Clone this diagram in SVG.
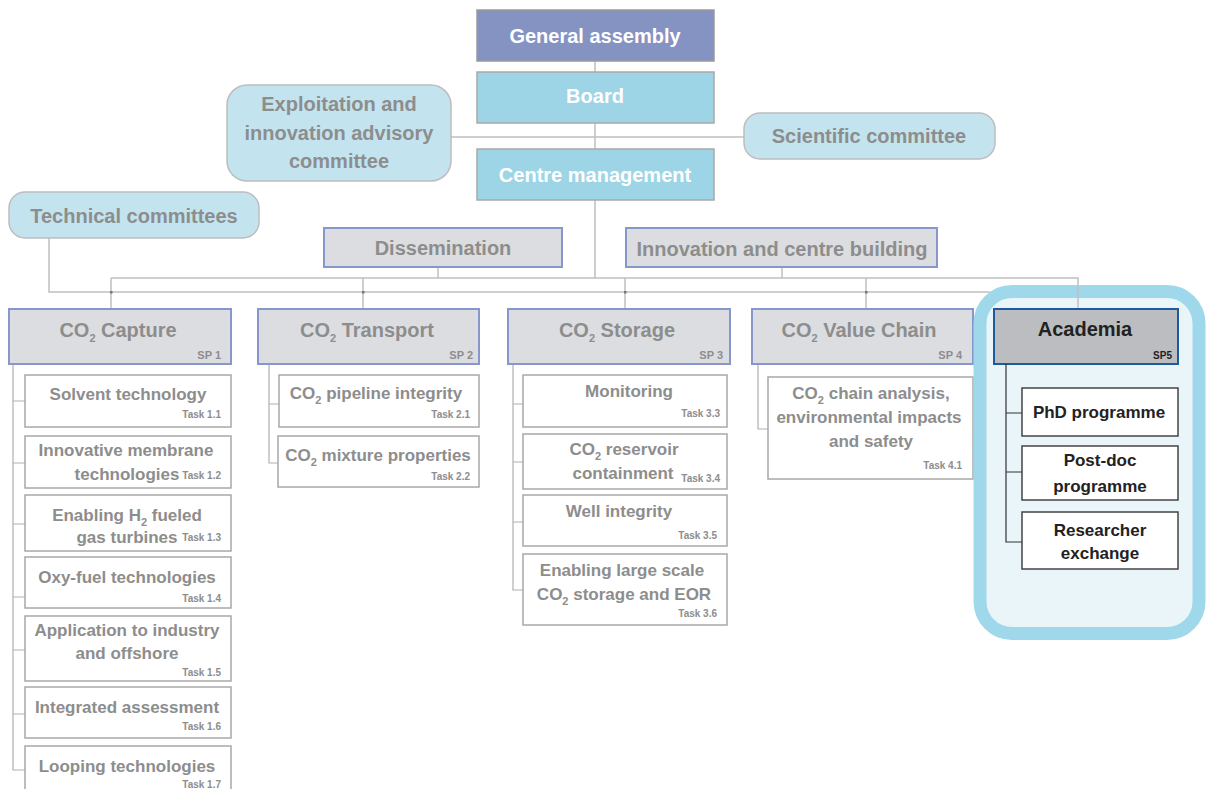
<svg xmlns="http://www.w3.org/2000/svg" width="1206" height="789" viewBox="0 0 1206 789">
<style>
text{font-family:"Liberation Sans",Arial,sans-serif;font-weight:bold}
.t{fill:#8d8d8d;font-size:20px;text-anchor:middle}
.w{fill:#ffffff;font-size:20px;text-anchor:middle}
.k{fill:#222222;font-size:17px;text-anchor:middle}
.kb{fill:#222222;font-size:20px;text-anchor:middle}
.tt{fill:#8d8d8d;font-size:17px;text-anchor:middle}
.lab{fill:#8d8d8d;font-size:10px;text-anchor:end}
.spl{fill:#8d8d8d;font-size:11px;text-anchor:end}
.labk{fill:#222222;font-size:10px;text-anchor:end}
.sub{font-size:11px}
.com{fill:#c3e4ef;stroke:#bdbdbd;stroke-width:1.5}
.mgmt{fill:#9dd5e6;stroke:#a9a9a9;stroke-width:1.5}
.sp{fill:#dcdde0;stroke:#8796cb;stroke-width:2}
.task{fill:#ffffff;stroke:#a8a8a8;stroke-width:1.5}
.ktask{fill:#ffffff;stroke:#444444;stroke-width:1.5}
.ln{fill:none;stroke:#c0c0c0;stroke-width:1.5}
.tl{fill:none;stroke:#b0b0b0;stroke-width:1.2}
.kl{fill:none;stroke:#333333;stroke-width:1.2}
</style>
<rect width="1206" height="789" fill="#ffffff"/>

<g id="connectors">
<path class="ln" d="M595 61V72M595 123V149M451 137H744M595 200V278M438 267V278M782 267V278M111 278H1078V309M111 278V309M363 278V309M625 278V309M866 278V309M49 238V292H990"/>
<g fill="#777">
<rect x="110" y="291" width="2.5" height="2.5"/>
<rect x="362" y="291" width="2.5" height="2.5"/>
<rect x="624" y="291" width="2.5" height="2.5"/>
<rect x="865" y="291" width="2.5" height="2.5"/>
</g>
<path class="tl" d="M13 364V770H25M13 401H25M13 463H25M13 524H25M13 597H25M13 650H25M13 714H25"/>
<path class="tl" d="M269 364V463H278M269 404H279"/>
<path class="tl" d="M513 364V590H523M513 404H523M513 462H523M513 522H523"/>
<path class="tl" d="M758 364V429H768"/>
</g>

<g id="general-assembly">
<rect x="477" y="10" width="237" height="51" fill="#8593c3" stroke="#9a9a9a" stroke-width="1.5"/>
<text class="w" x="595" y="43">General assembly</text>
</g>
<g id="board">
<rect class="mgmt" x="477" y="72" width="237" height="51"/>
<text class="w" x="595" y="103">Board</text>
</g>
<g id="centre-management">
<rect class="mgmt" x="477" y="149" width="237" height="51"/>
<text class="w" x="595" y="182">Centre management</text>
</g>
<g id="exploitation">
<rect class="com" x="227" y="85" width="224" height="96" rx="20"/>
<text class="t" x="339" y="111">Exploitation and</text>
<text class="t" x="339" y="140">innovation advisory</text>
<text class="t" x="339" y="168">committee</text>
</g>
<g id="scientific-committee">
<rect class="com" x="744" y="113" width="251" height="46" rx="16"/>
<text class="t" x="869" y="143">Scientific committee</text>
</g>
<g id="technical-committees">
<rect class="com" x="9" y="192" width="250" height="46" rx="16"/>
<text class="t" x="134" y="223">Technical committees</text>
</g>
<g id="dissemination">
<rect class="sp" x="324" y="228" width="238" height="39"/>
<text class="t" x="443" y="255">Dissemination</text>
</g>
<g id="innovation">
<rect class="sp" x="626" y="228" width="311" height="39"/>
<text class="t" x="782" y="256">Innovation and centre building</text>
</g>

<g id="sp1">
<rect class="sp" x="9" y="309" width="222" height="55"/>
<text class="t" x="118" y="337">CO<tspan class="sub" dy="5">2</tspan><tspan dy="-5"> Capture</tspan></text>
<text class="spl" x="221" y="359">SP 1</text>
</g>
<g id="task11"><rect class="task" x="25" y="375" width="206" height="52"/><text class="tt" x="128" y="400">Solvent technology</text><text class="lab" x="221" y="418">Task 1.1</text></g>
<g id="task12"><rect class="task" x="25" y="436" width="206" height="52"/><text class="tt" x="126" y="456">Innovative membrane</text><text class="tt" x="127" y="480">technologies</text><text class="lab" x="221" y="479">Task 1.2</text></g>
<g id="task13"><rect class="task" x="25" y="495" width="206" height="56"/><text class="tt" x="127" y="521">Enabling H<tspan class="sub" dy="5">2</tspan><tspan dy="-5"> fueled</tspan></text><text class="tt" x="127" y="543">gas turbines</text><text class="lab" x="221" y="541">Task 1.3</text></g>
<g id="task14"><rect class="task" x="25" y="557" width="206" height="51"/><text class="tt" x="127" y="583">Oxy-fuel technologies</text><text class="lab" x="221" y="602">Task 1.4</text></g>
<g id="task15"><rect class="task" x="25" y="616" width="206" height="65"/><text class="tt" x="127" y="636">Application to industry</text><text class="tt" x="127" y="659">and offshore</text><text class="lab" x="221" y="676">Task 1.5</text></g>
<g id="task16"><rect class="task" x="25" y="687" width="206" height="51"/><text class="tt" x="127" y="713">Integrated assessment</text><text class="lab" x="221" y="730">Task 1.6</text></g>
<g id="task17"><rect class="task" x="25" y="746" width="206" height="60"/><text class="tt" x="127" y="772">Looping technologies</text><text class="lab" x="221" y="788">Task 1.7</text></g>

<g id="sp2">
<rect class="sp" x="258" y="309" width="221" height="55"/>
<text class="t" x="367" y="337">CO<tspan class="sub" dy="5">2</tspan><tspan dy="-5"> Transport</tspan></text>
<text class="spl" x="473" y="359">SP 2</text>
</g>
<g id="task21"><rect class="task" x="279" y="375" width="200" height="52"/><text class="tt" x="376" y="399">CO<tspan class="sub" dy="5">2</tspan><tspan dy="-5"> pipeline integrity</tspan></text><text class="lab" x="470" y="418">Task 2.1</text></g>
<g id="task22"><rect class="task" x="278" y="436" width="201" height="51"/><text class="tt" x="378" y="461">CO<tspan class="sub" dy="5">2</tspan><tspan dy="-5"> mixture properties</tspan></text><text class="lab" x="470" y="480">Task 2.2</text></g>

<g id="sp3">
<rect class="sp" x="508" y="309" width="222" height="55"/>
<text class="t" x="617" y="337">CO<tspan class="sub" dy="5">2</tspan><tspan dy="-5"> Storage</tspan></text>
<text class="spl" x="723" y="359">SP 3</text>
</g>
<g id="task33"><rect class="task" x="523" y="375" width="204" height="52"/><text class="tt" x="629" y="397">Monitoring</text><text class="lab" x="720" y="417">Task 3.3</text></g>
<g id="task34"><rect class="task" x="523" y="434" width="204" height="55"/><text class="tt" x="624" y="455">CO<tspan class="sub" dy="5">2</tspan><tspan dy="-5"> reservoir</tspan></text><text class="tt" x="623" y="479">containment</text><text class="lab" x="720" y="482">Task 3.4</text></g>
<g id="task35"><rect class="task" x="523" y="495" width="204" height="51"/><text class="tt" x="619" y="517">Well integrity</text><text class="lab" x="717" y="539">Task 3.5</text></g>
<g id="task36"><rect class="task" x="523" y="554" width="204" height="71"/><text class="tt" x="622" y="576">Enabling large scale</text><text class="tt" x="624" y="600">CO<tspan class="sub" dy="5">2</tspan><tspan dy="-5"> storage and EOR</tspan></text><text class="lab" x="717" y="617">Task 3.6</text></g>

<g id="sp4">
<rect class="sp" x="752" y="309" width="221" height="55"/>
<text class="t" x="859" y="337">CO<tspan class="sub" dy="5">2</tspan><tspan dy="-5"> Value Chain</tspan></text>
<text class="spl" x="962" y="359">SP 4</text>
</g>
<g id="task41"><rect class="task" x="768" y="377" width="205" height="102"/><text class="tt" x="871" y="399">CO<tspan class="sub" dy="5">2</tspan><tspan dy="-5"> chain analysis,</tspan></text><text class="tt" x="869" y="423">environmental impacts</text><text class="tt" x="871" y="447">and safety</text><text class="lab" x="962" y="469">Task 4.1</text></g>

<g id="sp5">
<rect x="980" y="291.5" width="219" height="342" rx="32" fill="#eaf5fa" stroke="#9fd8ea" stroke-width="13"/>
<path class="ln" d="M1078 286V309"/>
<rect x="994" y="309" width="184" height="55" fill="#bcbdc0" stroke="#1f5a9c" stroke-width="2"/>
<text class="kb" x="1085" y="336">Academia</text>
<text class="labk" x="1172" y="359">SP5</text>
<path class="kl" d="M1006 364V542H1022M1006 413H1022M1006 472H1022"/>
</g>
<g id="phd"><rect class="ktask" x="1022" y="388" width="156" height="48"/><text class="k" x="1099" y="418">PhD programme</text></g>
<g id="postdoc"><rect class="ktask" x="1022" y="446" width="156" height="54"/><text class="k" x="1100" y="466">Post-doc</text><text class="k" x="1100" y="492">programme</text></g>
<g id="researcher"><rect class="ktask" x="1022" y="512" width="156" height="57"/><text class="k" x="1100" y="536">Researcher</text><text class="k" x="1100" y="559">exchange</text></g>
</svg>
